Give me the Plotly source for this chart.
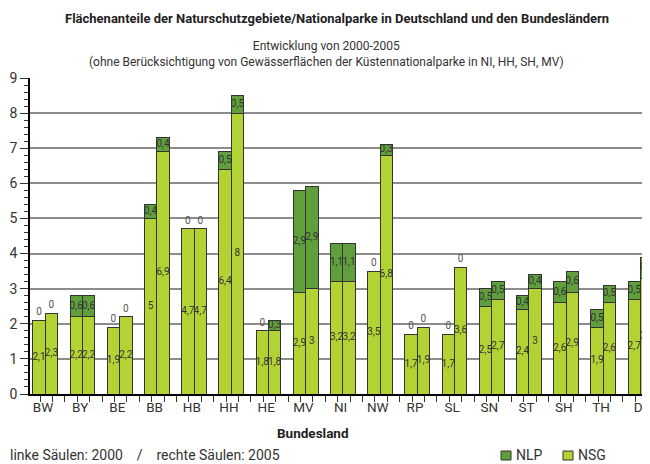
import plotly.graph_objects as go

# ========== Data ==========
laender = ["BW", "BY", "BE", "BB", "HB", "HH", "HE", "MV", "NI",
           "NW", "RP", "SL", "SN", "ST", "SH", "TH", "D"]
nsg_2000 = [2.1, 2.2, 1.9, 5.0, 4.7, 6.4, 1.8, 2.9, 3.2, 3.5, 1.7, 1.7, 2.5, 2.4, 2.6, 1.9, 2.7]
nlp_2000 = [0, 0.6, 0, 0.4, 0, 0.5, 0, 2.9, 1.1, 0, 0, 0, 0.5, 0.4, 0.6, 0.5, 0.5]
nsg_2005 = [2.3, 2.2, 2.2, 6.9, 4.7, 8.0, 1.8, 3.0, 3.2, 6.8, 1.9, 3.6, 2.7, 3.0, 2.9, 2.6, 3.3]
nlp_2005 = [0, 0.6, 0, 0.4, 0, 0.5, 0.3, 2.9, 1.1, 0.3, 0, 0, 0.5, 0.4, 0.6, 0.5, 0.6]

FONT = "Roboto, sans-serif"
C_NSG = "#b3d335"
C_NLP = "#5f9f3c"
LINE = dict(color="#333333", width=1)
SHIFT = 0.06  # bars sit a little right of the category labels

idx = list(range(len(laender)))
x_all = [i + SHIFT - 1/6 for i in idx] + [i + SHIFT + 1/6 for i in idx]
nsg_all = nsg_2000 + nsg_2005
nlp_all = nlp_2000 + nlp_2005


def fmt(v):
    return ("%g" % v).replace(".", ",")


fig = go.Figure()
fig.add_trace(go.Bar(x=x_all, y=nsg_all, width=1/3, name="NSG",
                     marker=dict(color=C_NSG, line=LINE)))
fig.add_trace(go.Bar(x=x_all, y=nlp_all, width=1/3, name="NLP",
                     marker=dict(color=C_NLP, line=LINE)))

# labels: NSG in middle of segment, NLP inside top segment or "0" above bar
lx, ly, lt = [], [], []
zx, zy = [], []
for x, s, n in zip(x_all, nsg_all, nlp_all):
    lx.append(x); ly.append(s / 2); lt.append(fmt(s))
    if n > 0:
        lx.append(x); ly.append(s + n / 2); lt.append(fmt(n))
    else:
        zx.append(x); zy.append(s + 0.22)

fig.add_trace(go.Scatter(x=lx, y=ly, text=lt, mode="text", showlegend=False,
                         textfont=dict(size=10, color="#333333", family=FONT),
                         cliponaxis=False, hoverinfo="skip"))
fig.add_trace(go.Scatter(x=zx, y=zy, text=["0"] * len(zx), mode="text", showlegend=False,
                         textfont=dict(size=10, color="#555555", family=FONT),
                         cliponaxis=False, hoverinfo="skip"))

# page body adds an 8px offset, so the figure is 8px smaller
fig.update_layout(
    width=642, height=456,
    margin=dict(l=22, r=0, t=70, b=70, autoexpand=False),
    barmode="stack",
    plot_bgcolor="white", paper_bgcolor="white",
    font=dict(family=FONT, color="#333333", size=13),
    showlegend=False,
)

fig.update_xaxes(
    range=[-0.349, 16.318], tickmode="array", tickvals=idx, ticktext=laender,
    showgrid=False, zeroline=False, showline=True, linecolor="#000000", linewidth=1.5,
    ticks="outside", ticklen=0, tickfont=dict(size=13.5),
    minor=dict(dtick=1/3, tick0=-0.08, ticks="outside", ticklen=6, tickcolor="#333333"),
)
fig.update_yaxes(
    range=[0, 9], dtick=1, showgrid=True, gridcolor="#8c8c8c", gridwidth=1.5,
    zeroline=False, showline=True, linecolor="#000000", linewidth=1.5,
    ticks="outside", ticklen=8, tickcolor="#333333", tickfont=dict(size=14),
    minor=dict(dtick=0.2, ticks="outside", ticklen=4, tickcolor="#333333", showgrid=False),
)


def px(p):
    return (p - 30) / 620


def py(p):
    return (394 - p) / 316


def note(x, y, text, size, color="#333333", anchor="center"):
    fig.add_annotation(x=x, y=y, xref="paper", yref="paper", showarrow=False,
                       xanchor=anchor, yanchor="middle", text=text,
                       font=dict(size=size, color=color))


note(px(337), py(18),
     "<b>Flächenanteile der Naturschutzgebiete/Nationalparke in Deutschland und den Bundesländern</b>",
     13, "#222222")
note(px(326), py(54),
     "Entwicklung von 2000-2005<br>(ohne Berücksichtigung von Gewässerflächen der Küstennationalparke in NI, HH, SH, MV)",
     12)
note(px(313), py(433), "<b>Bundesland</b>", 13.5, "#222222")
note(px(8), py(455),
     "linke Säulen: 2000&nbsp;&nbsp;&nbsp;&nbsp;/&nbsp;&nbsp;&nbsp;&nbsp;rechte Säulen: 2005",
     14, anchor="left")

# legend squares and names
for name, col, x0 in [("NLP", C_NLP, 501), ("NSG", C_NSG, 563)]:
    fig.add_shape(type="rect", xref="paper", yref="paper",
                  x0=px(x0), x1=px(x0 + 10), y0=py(460), y1=py(451),
                  fillcolor=col, line=dict(color="#333333", width=1))
    note(px(x0 + 13), py(455), name, 14, anchor="left")

fig.write_html("out.html")
